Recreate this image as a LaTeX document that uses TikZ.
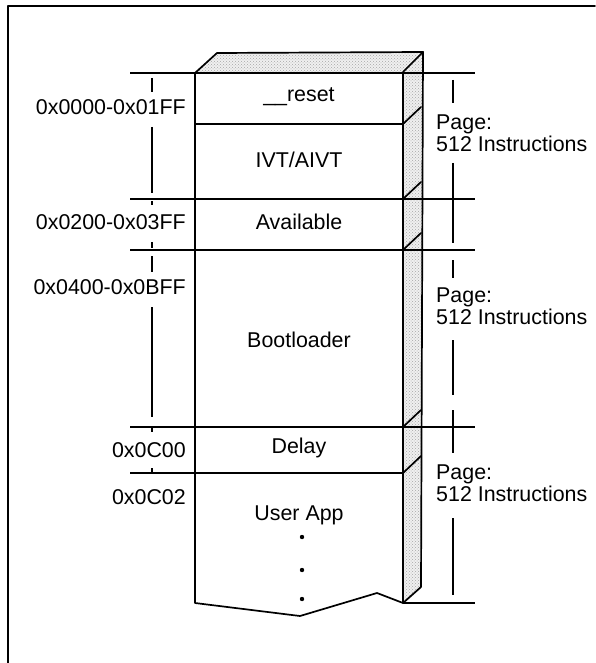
\documentclass[tikz,border=0pt]{standalone}
\usepackage{fontspec}
\setmainfont{Liberation Sans}
\usetikzlibrary{patterns}
\begin{document}
\begin{tikzpicture}[x=1pt,y=-1pt,
  ln/.style={line width=1.7pt, line cap=round, line join=round},
  thin/.style={line width=1.4pt},
  stip/.style={pattern=crosshatch dots, pattern color=gray!70},
  blk/.style={font=\fontsize{21.4}{23}\selectfont, inner sep=0pt},
  addr/.style={font=\fontsize{21.4}{23}\selectfont, inner sep=0pt, anchor=east},
  pg/.style={font=\fontsize{21.4}{21.5}\selectfont, inner sep=0pt, anchor=west, align=left}]
\useasboundingbox (0,0) rectangle (595,663);
% outer frame
\draw[ln] (8,663) -- (8,6) -- (595,6);
% top face and side panel
\fill[gray!12] (195,73) -- (217,53) -- (423,52) -- (403,72) -- cycle;
\fill[stip] (195,73) -- (217,53) -- (423,52) -- (403,72) -- cycle;
\fill[gray!12] (403,72) -- (423,52) -- (421,587) -- (403,603) -- cycle;
\fill[stip] (403,72) -- (423,52) -- (421,587) -- (403,603) -- cycle;
\draw[ln] (195,73) -- (217,53) -- (423,52) -- (421,587) -- (403,603);
\draw[ln] (403,72) -- (423,52);
% front box
\draw[ln] (195,73) -- (403,73) -- (403,603) -- (377,593) -- (300,616) -- (195,603) -- cycle;
% side diagonals
\foreach \yy in {124,199,250,427,473} {
  \draw[ln] (403,\yy) -- (421,\yy-17);
}
% horizontal boundary lines
\draw[thin] (130,73) -- (475,73);
\draw[thin] (195,124) -- (403,124);
\draw[thin] (130,199) -- (475,199);
\draw[thin] (130,250) -- (475,250);
\draw[thin] (130,427) -- (475,427);
\draw[thin] (130,473) -- (403,473);
\draw[thin] (403,603) -- (475,603);
% left vertical marker lines
\foreach \a/\b in {78/92,127/193,201/205,242/248,256/272,307/417,426/432,468/473} {
  \draw[thin] (152,\a) -- (152,\b);
}
% right vertical marker lines
\foreach \a/\b in {80/103,163/243,260/278,340/395,410/453,518/595} {
  \draw[thin] (453,\a) -- (453,\b);
}
% block labels
\node[blk] (reset) at (299,97) {\_\_reset};
\node[blk] (ivt) at (299,160) {IVT/AIVT};
\node[blk] (avail) at (299,222) {Available};
\node[blk] (boot) at (299,340) {Bootloader};
\node[blk] (delay) at (299,448) {Delay};
\node[blk] (user) at (299,515) {User App};
% continuation dots
\foreach \yy [count=\i] in {537,570,599} {
  \fill (302,\yy) circle (2.2) coordinate (dot\i);
}
% address labels
\node[addr] (a1) at (186,107) {0x0000-0x01FF};
\node[addr] (a2) at (186,222) {0x0200-0x03FF};
\node[addr] (a3) at (186,287) {0x0400-0x0BFF};
\node[addr] (a4) at (186,450) {0x0C00};
\node[addr] (a5) at (186,497) {0x0C02};
% page labels
\node[pg] (p1) at (436,133) {Page:\\512 Instructions};
\node[pg] (p2) at (436,306) {Page:\\512 Instructions};
\node[pg] (p3) at (436,483) {Page:\\512 Instructions};
\end{tikzpicture}
\end{document}
